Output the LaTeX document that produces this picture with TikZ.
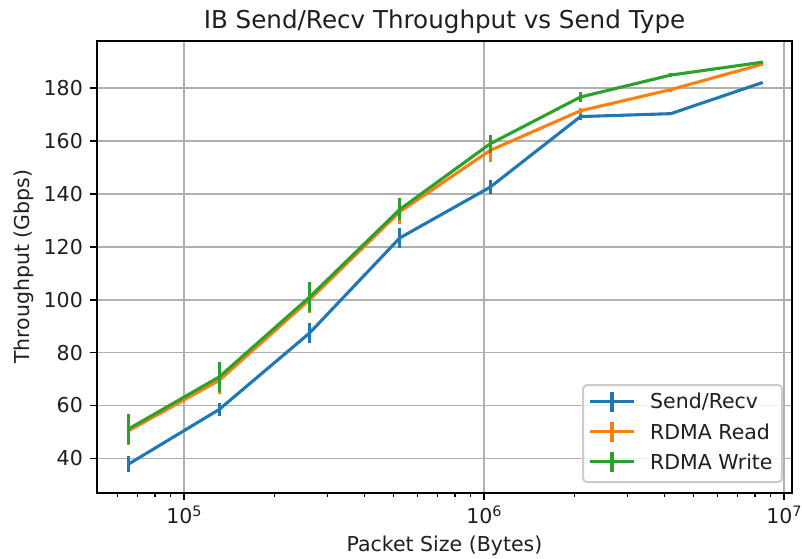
\documentclass[tikz,border=0pt]{standalone}
\usepackage{fontspec}
\setmainfont{DejaVu Sans}
\usetikzlibrary{positioning}

\definecolor{sendblue}{HTML}{1F77B4}
\definecolor{readorange}{HTML}{FF7F0E}
\definecolor{writegreen}{HTML}{2CA02C}
\definecolor{gridgray}{HTML}{B0B0B0}
\definecolor{framegray}{HTML}{CCCCCC}

\newcommand{\lgtwo}{0.30103}
\newcommand{\xlo}{4.71}
\newcommand{\xhi}{7.0267}
\newcommand{\ylo}{26.88}
\newcommand{\yhi}{198.0}

\tikzset{
  gridline/.style={draw=gridgray, line width=1.6pt},
  spine/.style={draw=black, line width=1.6pt, line cap=rect},
  majortick/.style={draw=black, line width=1.6pt},
  minortick/.style={draw=black, line width=1.2pt},
  ticklabel/.style={font=\fontsize{20.5}{24}\selectfont, text=black!88, inner sep=0pt},
  errbar/.style={line width=3.1pt, line cap=butt},
  series/.style={line width=3.1pt, line cap=rect, line join=round},
}

\begin{document}
\begin{tikzpicture}[x=1pt,y=1pt]
  \useasboundingbox[fill=white] (0,0) rectangle (802,558);

  \begin{scope}[x=300pt,y=2.643pt,shift={(-1316pt,-6.04pt)}]
    %% grid
    \foreach \v in {40,60,...,180}  % y
      \draw[gridline] (\xlo,\v) -- (\xhi,\v);
    \foreach \d in {5,6,7}  % x
      \draw[gridline] (\d,\ylo) -- (\d,\yhi);

    %% Send/Recv
    \foreach \n/\v/\e in {16/37.9/3.0,17/58.5/2.5,18/87.4/3.8,19/123.4/3.9,
                          20/142.6/2.6,21/169.3/1.4,22/170.4/0.6,23/182.0/0.5}
      \draw[errbar, sendblue] (\n*\lgtwo,\v-\e) -- (\n*\lgtwo,\v+\e);
    \draw[series, sendblue] (16*\lgtwo,37.9)
      foreach \n/\v in {17/58.5,18/87.4,19/123.4,20/142.6,21/169.3,22/170.4,23/182.0}
      { -- (\n*\lgtwo,\v) };

    %% RDMA Read
    \foreach \n/\v/\e in {16/50.5/5.5,17/69.5/5.0,18/100.0/5.0,19/133.3/4.5,
                          20/156.5/4.2,21/171.5/1.2,22/179.5/0.8,23/189.0/0.5}
      \draw[errbar, readorange] (\n*\lgtwo,\v-\e) -- (\n*\lgtwo,\v+\e);
    \draw[series, readorange] (16*\lgtwo,50.5)
      foreach \n/\v in {17/69.5,18/100.0,19/133.3,20/156.5,21/171.5,22/179.5,23/189.0}
      { -- (\n*\lgtwo,\v) };

    %% RDMA Write
    \foreach \n/\v/\e in {16/51.2/5.7,17/70.8/5.7,18/101.0/5.7,19/134.2/4.2,
                          20/159.0/3.4,21/176.7/1.9,22/185.0/0.9,23/189.8/0.5}
      \draw[errbar, writegreen] (\n*\lgtwo,\v-\e) -- (\n*\lgtwo,\v+\e);
    \draw[series, writegreen] (16*\lgtwo,51.2)
      foreach \n/\v in {17/70.8,18/101.0,19/134.2,20/159.0,21/176.7,22/185.0,23/189.8}
      { -- (\n*\lgtwo,\v) };

    %% spines
    \draw[spine] (\xlo,\ylo) rectangle (\xhi,\yhi);

    %% y ticks
    \foreach \v in {40,60,...,180}{
      \draw[majortick] (\xlo,\v) -- ++(-7.2pt,0);
      \node[ticklabel, anchor=east, xshift=-14pt] (ytick\v) at (\xlo,\v) {\v};
    }

    %% x ticks
    \foreach \d in {5,6,7}{
      \draw[majortick] (\d,\ylo) -- ++(0,-7.2pt);
      \node[ticklabel, anchor=base, yshift=-30.3pt] (xtick\d) at (\d,\ylo)
        {10\raisebox{7pt}{\fontsize{14.4}{16}\selectfont\d}};
    }
    \foreach \m in {6,...,9}  % minor, below 10^5
      \draw[minortick] ({4+log10(\m)},\ylo) -- ++(0,-4.1pt);
    \foreach \d in {5,6}
      \foreach \m in {2,...,9}  % minor
        \draw[minortick] ({\d+log10(\m)},\ylo) -- ++(0,-4.1pt);
  \end{scope}

  %% labels
  \node[font=\fontsize{24.6}{28}\selectfont, text=black!88, anchor=base] (title)
    at (444.5,529.6) {IB Send/Recv Throughput vs Send Type};
  \node[ticklabel, anchor=base] (xlabel) at (444.5,6.5) {Packet Size (Bytes)};
  \node[ticklabel, rotate=90] (ylabel) at (24,291.2) {Throughput (Gbps)};

  %% legend
  \draw[draw=framegray, line width=2pt, fill=white, fill opacity=0.8,
        rounded corners=4pt] (583,76) rectangle (782,173);
  \foreach \c/\y/\t [count=\k] in {sendblue/156.3/{Send/Recv},
                                   readorange/126.3/{RDMA Read},
                                   writegreen/96.3/{RDMA Write}}{
    \coordinate (hand\k) at (612,\y);
    \draw[series, line cap=butt, \c] (590,\y) -- (634,\y);
    \draw[errbar, \c] (612,\y-10) -- (612,\y+10);
    \node[ticklabel, right=38pt of hand\k] (legtext\k) {\t};
  }
\end{tikzpicture}
\end{document}
